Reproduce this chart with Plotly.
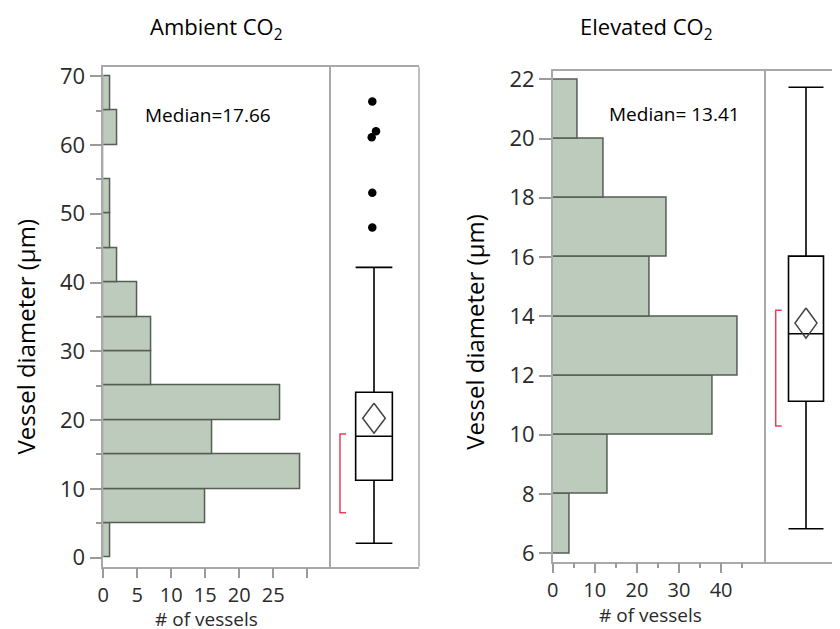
import plotly.graph_objects as go

W, H = 840, 629
OFF = 8  # page body margin of the html page

# ---------------- data ----------------
# Ambient CO2 histogram (bin width 5 µm)
amb_bin_lo = [0, 5, 10, 15, 20, 25, 30, 35, 40, 45, 50, 55, 60, 65]
amb_counts = [1, 15, 29, 16, 26, 7, 7, 5, 2, 1, 1, 0, 2, 1]
amb_bin_w = 5
# Ambient box plot statistics
amb_q1, amb_median, amb_q3 = 11.25, 17.66, 24.04
amb_low_whisker, amb_high_whisker = 2.09, 42.2
amb_mean, amb_mean_ci = 20.26, 2.18
amb_short_half = [6.54, 17.98]
amb_outliers = [66.3, 62.0, 61.1, 53.05, 48.0]
amb_outlier_jitter = [-1.7, 2.0, -2.3, -1.7, -1.7]

# Elevated CO2 histogram (bin width 2 µm)
ele_bin_lo = [6, 8, 10, 12, 14, 16, 18, 20]
ele_counts = [4, 13, 38, 44, 23, 27, 12, 6]
ele_bin_w = 2
# Elevated box plot statistics
ele_q1, ele_median, ele_q3 = 11.13, 13.41, 16.03
ele_low_whisker, ele_high_whisker = 6.83, 21.73
ele_mean, ele_mean_ci = 13.77, 0.51
ele_short_half = [10.3, 14.2]

# tick labels
amb_y_ticks = [0, 10, 20, 30, 40, 50, 60, 70]
amb_x_ticks = [0, 5, 10, 15, 20, 25, 30]
amb_x_ticktext = ["0", "5", "10", "15", "20", "25", " "]
ele_y_ticks = [6, 8, 10, 12, 14, 16, 18, 20, 22]
ele_x_ticks = [0, 10, 20, 30, 40]
ele_x_minor = [5, 15, 25, 35, 45]

titles = ["Ambient CO<sub>2</sub>", "Elevated CO<sub>2</sub>"]
median_labels = ["Median=17.66", "Median= 13.41"]
y_title = "Vessel diameter (μm)"
x_title = "# of vessels"

# ---------------- style ----------------
FONT = "Open Sans"
BAR_FILL = "#bccbbb"
BAR_EDGE = "#555d55"
FRAME = "#a9a9a9"
TICKC = "#9a9a9a"
LABELC = "#2a2a2a"
RED = "#f03c5a"


def fx(px):
    return (px - OFF) / W


def fy(py):
    return 1 - (py - OFF) / H


fig = go.Figure()

# histograms
fig.add_trace(go.Bar(
    y=[lo + amb_bin_w / 2 for lo in amb_bin_lo], x=amb_counts, width=amb_bin_w,
    orientation="h", xaxis="x", yaxis="y",
    marker=dict(color=BAR_FILL, line=dict(color=BAR_EDGE, width=1.5)),
    showlegend=False, hoverinfo="skip"))
fig.add_trace(go.Bar(
    y=[lo + ele_bin_w / 2 for lo in ele_bin_lo], x=ele_counts, width=ele_bin_w,
    orientation="h", xaxis="x3", yaxis="y2",
    marker=dict(color=BAR_FILL, line=dict(color=BAR_EDGE, width=1.5)),
    showlegend=False, hoverinfo="skip"))


def add_box(xa, ya, q1, med, q3, lo, hi, mean, ci, sh, bw, dw, bx):
    fig.add_trace(go.Box(
        x=[0], q1=[q1], median=[med], q3=[q3], lowerfence=[lo], upperfence=[hi],
        xaxis=xa, yaxis=ya, width=bw, whiskerwidth=1, boxpoints=False,
        fillcolor="white", line=dict(color="black", width=1.6),
        showlegend=False, hoverinfo="skip"))
    # mean diamond
    fig.add_trace(go.Scatter(
        x=[0, dw, 0, -dw, 0], y=[mean + ci, mean, mean - ci, mean, mean + ci],
        mode="lines", line=dict(color="#444444", width=1.5),
        xaxis=xa, yaxis=ya, showlegend=False, hoverinfo="skip"))
    # shortest half bracket
    fig.add_trace(go.Scatter(
        x=[bx + 6, bx, bx, bx + 6], y=[sh[1], sh[1], sh[0], sh[0]],
        mode="lines", line=dict(color=RED, width=1.5),
        xaxis=xa, yaxis=ya, showlegend=False, hoverinfo="skip"))


add_box("x2", "y", amb_q1, amb_median, amb_q3, amb_low_whisker, amb_high_whisker,
        amb_mean, amb_mean_ci, amb_short_half, 36.7, 11.3, -34)
add_box("x4", "y2", ele_q1, ele_median, ele_q3, ele_low_whisker, ele_high_whisker,
        ele_mean, ele_mean_ci, ele_short_half, 35, 11, -30.3)

fig.add_trace(go.Scatter(
    x=amb_outlier_jitter, y=amb_outliers, mode="markers",
    marker=dict(color="black", size=8.5),
    xaxis="x2", yaxis="y", showlegend=False, hoverinfo="skip"))

common_line = dict(showline=True, linecolor=FRAME, linewidth=1.5, mirror=True,
                   showgrid=False, zeroline=False, automargin=False)

fig.update_layout(
    width=W, height=H, margin=dict(l=0, r=0, t=0, b=0, pad=0, autoexpand=False),
    paper_bgcolor="white", plot_bgcolor="white",
    font=dict(family=FONT, color=LABELC),
    bargap=0,
    xaxis=dict(domain=[fx(103.3), fx(329)], range=[0, 33.2], anchor="y",
               tickvals=amb_x_ticks, ticktext=amb_x_ticktext,
               ticks="outside", ticklen=10, tickcolor=TICKC, tickwidth=1.5,
               tickfont=dict(size=20, color=LABELC), **common_line),
    yaxis=dict(domain=[fy(566.7), fy(67.3)], range=[-1.31, 71.28], anchor="x",
               tickvals=amb_y_ticks, ticks="outside", ticklen=12, tickcolor=TICKC,
               tickwidth=1.5, tickfont=dict(size=22, color=LABELC),
               minor=dict(dtick=5, tick0=0, ticks="outside", ticklen=6,
                          tickcolor=TICKC, tickwidth=1.5, showgrid=False),
               **common_line),
    xaxis2=dict(domain=[fx(329), fx(419)], range=[-45, 45], anchor="y",
                showticklabels=False, ticks="", **common_line),
    xaxis3=dict(domain=[fx(552.7), fx(764)], range=[0, 50.2], anchor="y2",
                tickvals=ele_x_ticks, ticks="outside", ticklen=10, tickcolor=TICKC,
                tickwidth=1.5, tickfont=dict(size=20, color=LABELC),
                minor=dict(tickvals=ele_x_minor, ticks="outside", ticklen=5,
                           tickcolor=TICKC, tickwidth=1.5, showgrid=False),
                **common_line),
    yaxis2=dict(domain=[fy(561.7), fy(70.7)], range=[5.716, 22.29], anchor="x3",
                tickvals=ele_y_ticks, ticks="outside", ticklen=12, tickcolor=TICKC,
                tickwidth=1.5, tickfont=dict(size=22, color=LABELC), **common_line),
    xaxis4=dict(domain=[fx(764), 1.0], range=[-42, 42], anchor="y2",
                showticklabels=False, ticks="", **common_line),
)

# right edge of the ambient box panel
fig.add_shape(type="line", xref="x2 domain", yref="y domain", x0=1, x1=1, y0=0, y1=1,
              line=dict(color=FRAME, width=1.5))

ann = []
ann.append(dict(text=titles[0], x=fx(148), y=fy(28), xanchor="left", yanchor="middle",
                font=dict(size=22, color="black")))
ann.append(dict(text=titles[1], x=fx(578), y=fy(28), xanchor="left", yanchor="middle",
                font=dict(size=22, color="black")))
ann.append(dict(text=median_labels[0], x=fx(208), y=fy(114.6), xanchor="center",
                yanchor="middle", font=dict(size=19, color="black")))
ann.append(dict(text=median_labels[1], x=fx(674.7), y=fy(114), xanchor="center",
                yanchor="middle", font=dict(size=19, color="black")))
ann.append(dict(text=y_title, x=fx(25), y=fy(336.5), textangle=-90, xanchor="center",
                yanchor="middle", font=dict(size=24, color="black")))
ann.append(dict(text=y_title, x=fx(475), y=fy(331.7), textangle=-90, xanchor="center",
                yanchor="middle", font=dict(size=24, color="black")))
ann.append(dict(text=x_title, x=fx(206.7), y=fy(619), xanchor="center", yanchor="middle",
                font=dict(size=19, color=LABELC)))
ann.append(dict(text=x_title, x=fx(650), y=fy(615), xanchor="center", yanchor="middle",
                font=dict(size=19, color=LABELC)))
for a in ann:
    a.update(xref="paper", yref="paper", showarrow=False)
fig.update_layout(annotations=ann)

fig.write_html("out.html")
